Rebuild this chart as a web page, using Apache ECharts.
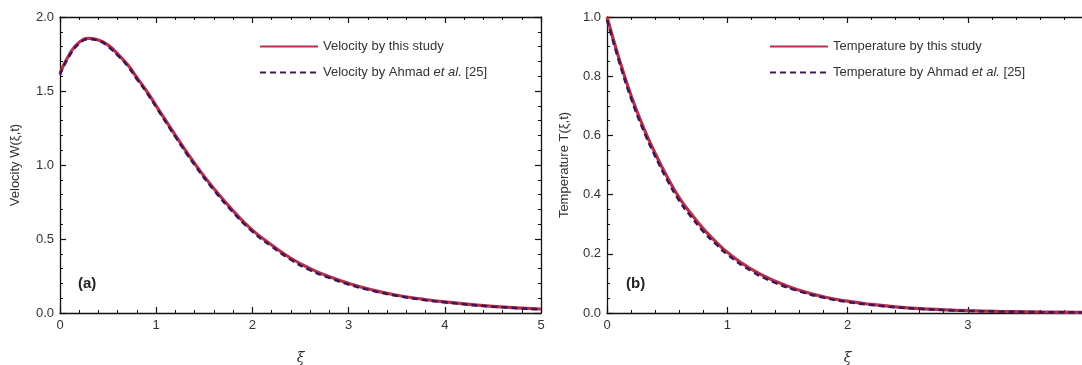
<!DOCTYPE html>
<html><head><meta charset="utf-8">
<script src="https://cdn.jsdelivr.net/npm/echarts@6/dist/echarts.min.js"></script>
<style>html,body{margin:0;padding:0;background:#fff}#c{width:1082px;height:365px}</style>
</head><body><div id="c"></div>
<script>
// Panel (a): velocity
const xiVel = [0,0.1,0.2,0.3,0.4,0.5,0.6,0.7,0.8,0.9,1.0,1.2,1.4,1.6,1.8,2.0,2.2,2.4,2.6,2.8,3.0,3.25,3.5,3.75,4.0,4.5,5.0];
const velStudy = [1.62,1.75,1.83,1.855,1.845,1.81,1.75,1.68,1.59,1.50,1.40,1.20,1.01,0.84,0.69,0.56,0.46,0.37,0.30,0.245,0.20,0.155,0.12,0.095,0.075,0.045,0.027];
const velAhmad = [1.61,1.74,1.82,1.85,1.84,1.80,1.74,1.67,1.58,1.49,1.39,1.19,1.00,0.83,0.68,0.55,0.45,0.36,0.29,0.237,0.193,0.15,0.116,0.091,0.072,0.043,0.025];
// Panel (b): temperature
const xiTemp = [0,0.1,0.2,0.3,0.4,0.5,0.6,0.7,0.8,0.9,1.0,1.2,1.4,1.6,1.8,2.0,2.2,2.4,2.6,2.8,3.0,3.25,3.5,3.75,4.0];
const tempStudy = [1.0,0.86,0.735,0.63,0.54,0.46,0.39,0.335,0.285,0.243,0.205,0.148,0.107,0.077,0.055,0.040,0.029,0.021,0.015,0.011,0.008,0.0055,0.004,0.003,0.002];
const tempAhmad = [0.99,0.85,0.725,0.62,0.53,0.45,0.38,0.325,0.276,0.235,0.198,0.142,0.102,0.073,0.052,0.037,0.027,0.019,0.014,0.010,0.007,0.005,0.0035,0.0025,0.0018];
const legendA = ['Velocity by this study','Velocity by Ahmad et al. [25]'];
const legendB = ['Temperature by this study','Temperature by Ahmad et al. [25]'];

const pairs = (xs, ys) => xs.map((x,i)=>[x, ys[i]]);
const FONT = 'Liberation Sans, Arial, sans-serif';
const RED = '#b8304a', PUR = '#3e1656';

function axisBase(min, max, interval, minorSplit, showLabel, pos) {
  return {
    type:'value', min, max, interval, position: pos,
    axisLine:{show:true, onZero:false, lineStyle:{color:'#111', width:1.3}},
    axisTick:{show:true, inside:true, length:6, lineStyle:{color:'#111', width:1.2}},
    minorTick:{show:true, splitNumber:minorSplit, length:3, lineStyle:{color:'#111', width:1}},
    splitLine:{show:false},
    axisLabel:{show:showLabel, color:'#333', fontSize:13, fontFamily:FONT, margin:6,
      formatter: v => v.toFixed(interval < 1 ? 1 : 0)}
  };
}

const chart = echarts.init(document.getElementById('c'));
const xA = axisBase(0,5,1,5,true,'bottom');
xA.gridIndex = 0; xA.name='ξ'; xA.nameLocation='middle'; xA.nameGap=38;
xA.nameTextStyle={fontStyle:'italic', fontSize:14, color:'#333', fontFamily:'DejaVu Serif, serif'};
xA.axisLabel.formatter = v => String(v);
const xAt = axisBase(0,5,1,5,false,'top'); xAt.gridIndex=0;
const yA = axisBase(0,2,0.5,5,true,'left'); yA.gridIndex=0;
yA.name='Velocity W(ξ,t)'; yA.nameLocation='middle'; yA.nameGap=38;
yA.nameTextStyle={fontSize:13, color:'#333', fontFamily:FONT};
const yAr = axisBase(0,2,0.5,5,false,'right'); yAr.gridIndex=0;

const xB = axisBase(0,4,1,5,true,'bottom');
xB.gridIndex = 1; xB.name='ξ'; xB.nameLocation='middle'; xB.nameGap=38;
xB.nameTextStyle={fontStyle:'italic', fontSize:14, color:'#333', fontFamily:'DejaVu Serif, serif'};
xB.axisLabel.formatter = v => String(v);
const xBt = axisBase(0,4,1,5,false,'top'); xBt.gridIndex=1;
const yB = axisBase(0,1,0.2,4,true,'left'); yB.gridIndex=1;
yB.name='Temperature T(ξ,t)'; yB.nameLocation='middle'; yB.nameGap=36;
yB.nameTextStyle={fontSize:13, color:'#333', fontFamily:FONT};
const yBr = axisBase(0,1,0.2,4,false,'right'); yBr.gridIndex=1;

const legendText = {color:'#333', fontSize:13, fontFamily:FONT,
  rich:{i:{fontStyle:'italic', fontSize:13, color:'#333', fontFamily:FONT}}};
const fmt = n => n.replace('et al.', '{i|et al.}');
const legendCommon = {top:35, orient:'vertical', itemWidth:58, itemHeight:14, itemGap:13,
  textStyle:legendText, formatter:fmt, itemStyle:{opacity:0}, selectedMode:false};

chart.setOption({
  animation:false,
  backgroundColor:'#fff',
  grid:[
    {left:60, top:17, width:481, height:296, outerBoundsMode:'none', containLabel:false},
    {left:607, top:17, width:481, height:296, outerBoundsMode:'none', containLabel:false}
  ],
  xAxis:[xA, xAt, xB, xBt],
  yAxis:[yA, yAr, yB, yBr],
  legend:[
    Object.assign({data:legendA, left:254}, legendCommon),
    Object.assign({data:legendB, left:764}, legendCommon)
  ],
  graphic:[
    {type:'text', left:78, top:276, style:{text:'(a)', font:'bold 15px Liberation Sans, Arial, sans-serif', fill:'#222'}},
    {type:'text', left:626, top:276, style:{text:'(b)', font:'bold 15px Liberation Sans, Arial, sans-serif', fill:'#222'}}
  ],
  series:[
    {name:legendA[0], type:'line', xAxisIndex:0, yAxisIndex:0, data:pairs(xiVel, velStudy), smooth:true,
     showSymbol:false, symbol:'none', lineStyle:{color:RED, width:3.2}, itemStyle:{color:RED}},
    {name:legendA[1], type:'line', xAxisIndex:0, yAxisIndex:0, data:pairs(xiVel, velAhmad), smooth:true,
     showSymbol:false, symbol:'none', lineStyle:{color:PUR, width:2.5, type:[6,4]}, itemStyle:{color:PUR}},
    {name:legendB[0], type:'line', xAxisIndex:2, yAxisIndex:2, data:pairs(xiTemp, tempStudy), smooth:true,
     showSymbol:false, symbol:'none', lineStyle:{color:RED, width:3.2}, itemStyle:{color:RED}},
    {name:legendB[1], type:'line', xAxisIndex:2, yAxisIndex:2, data:pairs(xiTemp, tempAhmad), smooth:true,
     showSymbol:false, symbol:'none', lineStyle:{color:PUR, width:2.5, type:[6,4]}, itemStyle:{color:PUR}}
  ]
});
</script></body></html>
